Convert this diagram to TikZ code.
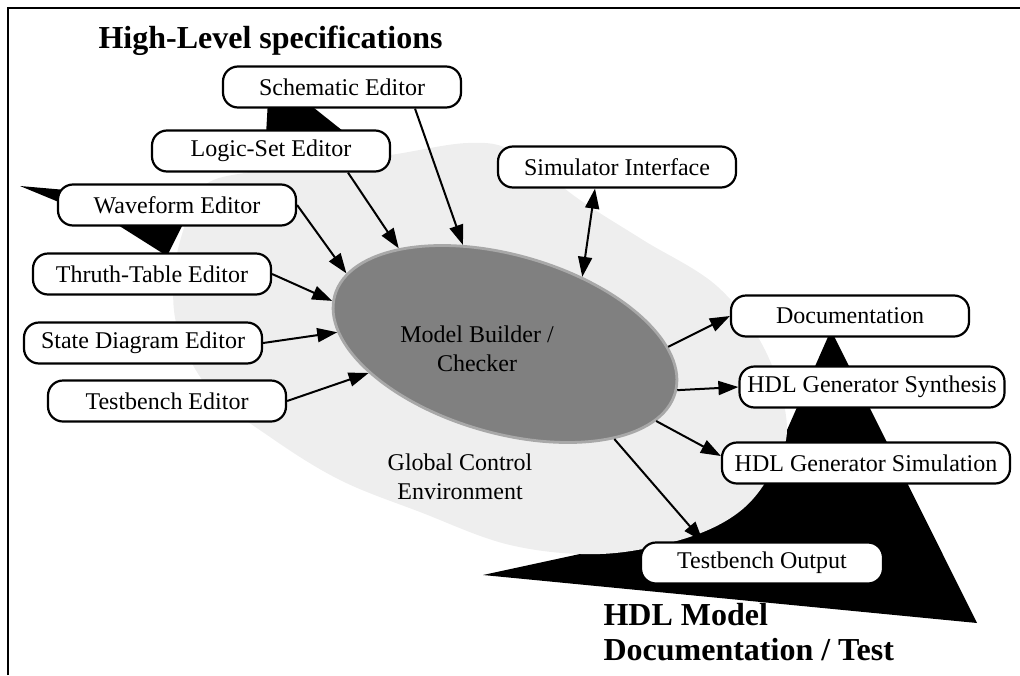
\documentclass[tikz,border=0pt]{standalone}
\usepackage{fontspec}
\setmainfont{Liberation Serif}
\usetikzlibrary{shapes.geometric,arrows.meta}

\definecolor{envgray}{HTML}{EEEEEE}
\definecolor{mbgray}{HTML}{808080}
\definecolor{mbedge}{HTML}{A8A8A8}

\begin{document}
\begin{tikzpicture}[x=1pt,y=-1pt,
    box/.style={draw, line width=2.2pt, rounded corners=15pt, fill=white,
        minimum width=238pt, minimum height=41pt, inner sep=0pt,
        font=\fontsize{24}{29}\selectfont},
    arr/.style={line width=2pt, -{Triangle[length=20pt,width=14pt]}},
    arrb/.style={line width=2pt, {Triangle[length=20pt,width=14pt]}-{Triangle[length=20pt,width=14pt]}},
    txt/.style={align=center, font=\fontsize{24}{29}\selectfont},
    head/.style={anchor=base west, font=\fontsize{32}{32}\selectfont\bfseries}]

    \useasboundingbox (0,0) rectangle (1020,675);

    % Draw the frame
    \draw[line width=2.4pt] (8,675) -- (8,8) -- (1020,8);

    % Black pointer behind the output boxes
    \fill (483,575) -- (700,528) -- (765,480) -- (831,330) -- (977,623) -- cycle;

    % Global control environment
    \fill[envgray] plot[smooth cycle, tension=0.6] coordinates {
        (205,185) (250,172) (320,163) (390,155) (468,143) (515,152)
        (580,200) (643,240) (718,287) (766,352) (787,428) (768,478)
        (735,515) (680,540) (600,554) (510,545) (420,512) (340,480)
        (270,437) (210,390) (178,330) (174,275) (185,225)};

    % Black pointers behind the editors
    \fill (268,100) -- (304,100) -- (348,135) -- (266,135) -- cycle;
    \fill (20,186) -- (66,190) -- (66,205) -- cycle;
    \fill (110,220) -- (185,220) -- (167,256) -- cycle;

    % Model builder in the middle
    \node[ellipse, fill=mbgray, draw=mbedge, line width=2.8pt, inner sep=0pt,
        minimum width=354pt, minimum height=178pt, rotate=-16] (mb) at (505,344) {};
    \node[txt] (mbl) at (477,349) {Model Builder /\\Checker};
    \node[txt] (gce) at (460,477) {Global Control\\Environment};

    % Editors
    \node[box] (schem) at (342,87) {Schematic Editor};
    \node[box] (logic) at (271,151) {Logic-Set Editor};
    \node[box] (wave) at (177,205) {Waveform Editor};
    \node[box] (truth) at (152,274) {Thruth-Table Editor};
    \node[box] (state) at (143,343) {State Diagram Editor};
    \node[box] (tbed) at (167,401) {Testbench Editor};
    \node[box] (simif) at (617,167) {Simulator Interface};

    % Outputs
    \node[box] (doc) at (850,316) {Documentation};
    \node[box, minimum width=265pt] (synth) at (872,387) {HDL Generator Synthesis};
    \node[box, minimum width=288pt] (simul) at (866,463) {HDL Generator Simulation};
    \node[box, minimum width=242pt] (tbout) at (762,563) {Testbench Output};

    % Arrows into the model builder
    \draw[arr] ([xshift=73pt]schem.south) -- (mb.129.5);
    \draw[arr] ([xshift=77pt]logic.south) -- (mb.154);
    \draw[arr] (wave.east) -- (mb.172);
    \draw[arr] (truth.east) -- (mb.182);
    \draw[arr] (state.east) -- (mb.192);
    \draw[arr] (tbed.east) -- (mb.208);
    \draw[arrb] ([xshift=-22pt]simif.south) -- (mb.57);

    % Arrows out of the model builder
    \draw[arr] (mb.15) -- (doc.west);
    \draw[arr] (mb.1) -- (synth.west);
    \draw[arr] (mb.-11) -- ([yshift=7pt]simul.west);
    \draw[arr] (mb.-25) -- ([xshift=-59pt]tbout.north);

    % Headings
    \node[head] (hls) at (95,48) {High-Level specifications};
    \node[head] (hdlm) at (600,625) {HDL Model};
    \node[head] (hdld) at (600,660) {Documentation / Test};

\end{tikzpicture}
\end{document}
